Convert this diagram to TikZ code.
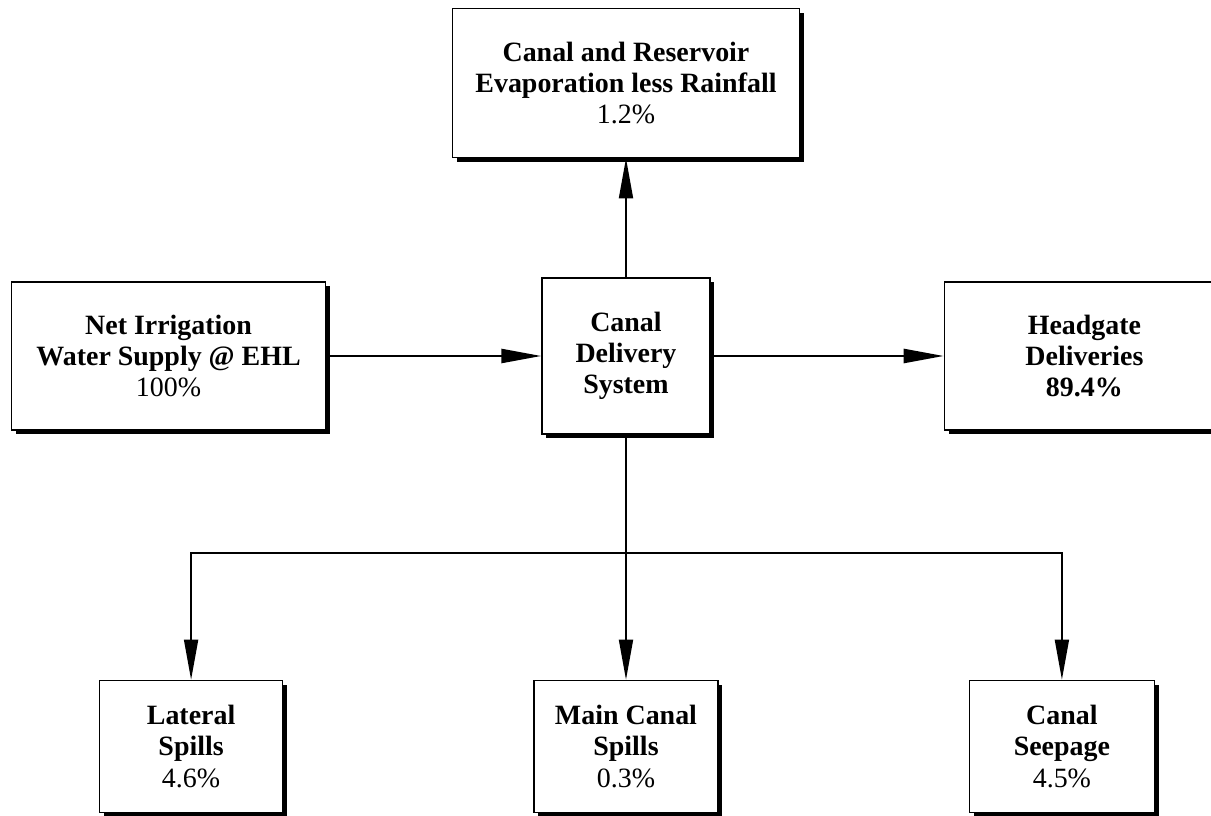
\documentclass[tikz,border=0pt]{standalone}
\usepackage{fontspec}
\setmainfont{Liberation Serif}
\usetikzlibrary{arrows.meta, positioning, shadows}

\begin{document}
\begin{tikzpicture}[
    every node/.style={font=\fontsize{15.9}{17.8}\selectfont},
    box/.style={
        rectangle,
        draw=black,
        fill=white,
        line width=0.8pt,
        text centered,
        align=center,
        font=\fontsize{15.9}{17.8}\selectfont\bfseries,
        drop shadow={shadow xshift=2.4pt, shadow yshift=-2.4pt, fill=black, opacity=1}
    },
    flowarrow/.style={
        -{Triangle[length=0.8cm, width=0.28cm]},
        line width=1.4pt
    },
    thinarrow/.style={
        -{Triangle[length=0.8cm, width=0.28cm]},
        line width=1pt
    }
]
\useasboundingbox (-12.52,-9.2) rectangle (11.7,7.12);

% Center node
\node[box, minimum width=3.36cm, minimum height=3.12cm] (sys) {Canal\\Delivery\\System};

% Inflow and outflows on the same level
\node[box, minimum width=6.28cm, minimum height=2.96cm, left=4.3cm of sys] (supply) {Net Irrigation\\Water Supply @ EHL\\{\mdseries 100\%}};
\node[box, minimum width=5.6cm, minimum height=2.96cm, right=4.66cm of sys] (head) {Headgate\\Deliveries\\89.4\%};
\node[box, minimum width=6.94cm, minimum height=2.98cm, above=2.38cm of sys] (evap) {Canal and Reservoir\\Evaporation less Rainfall\\{\mdseries 1.2\%}};

% Losses below
\node[box, minimum width=3.68cm, minimum height=2.64cm, below=4.9cm of sys] (main) {Main Canal\\Spills\\{\mdseries 0.3\%}};
\node[box, minimum width=3.66cm, minimum height=2.64cm, left=5cm of main] (lateral) {Lateral\\Spills\\{\mdseries 4.6\%}};
\node[box, minimum width=3.7cm, minimum height=2.64cm, right=5cm of main] (seep) {Canal\\Seepage\\{\mdseries 4.5\%}};

% Arrows
\draw[flowarrow] (supply) -- (sys);
\draw[flowarrow] (sys) -- (head);
\draw[thinarrow] (sys) -- (evap);
\draw[thinarrow] (sys) -- (main);

% Branch to the side losses
\coordinate[below=2.36cm of sys.south] (split);
\draw[thinarrow] (split) -| (lateral);
\draw[thinarrow] (split) -| (seep);

\end{tikzpicture}
\end{document}
